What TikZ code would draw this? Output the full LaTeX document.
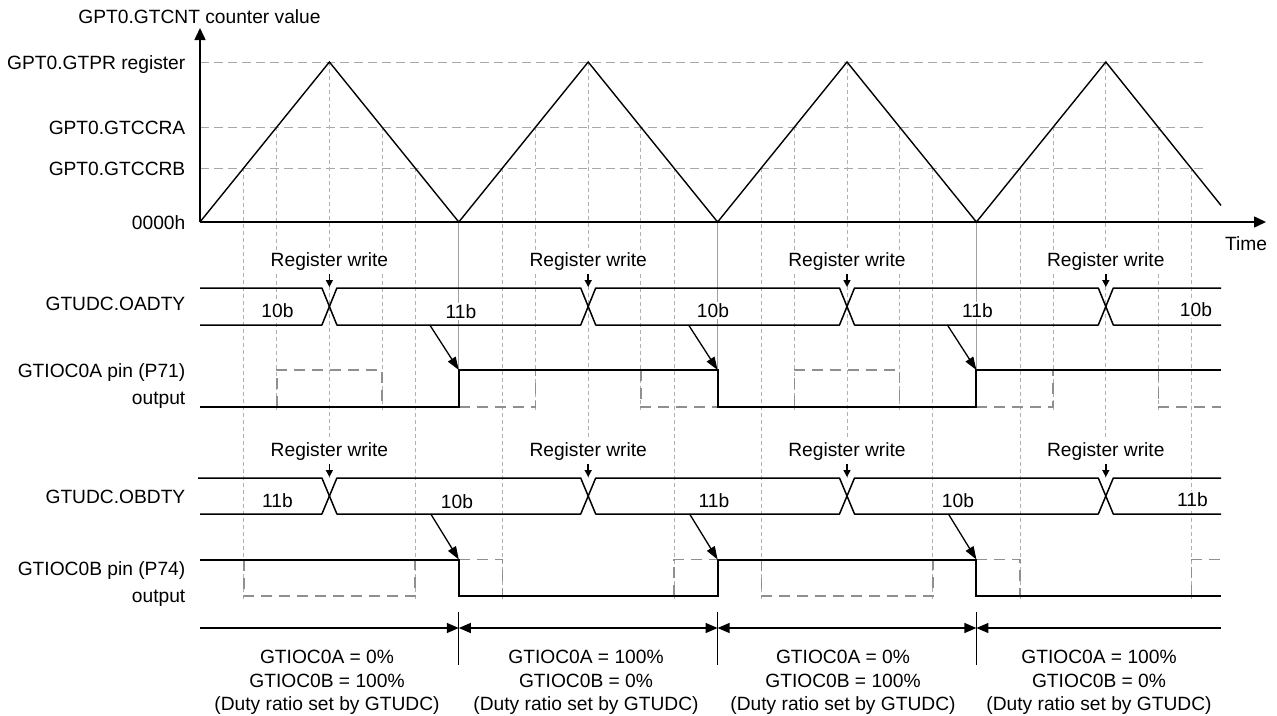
\documentclass[tikz,border=0pt]{standalone}
\usepackage{fontspec}
\setmainfont{Liberation Sans}
\usetikzlibrary{arrows.meta}
\definecolor{gridc}{HTML}{A8A8A8}
\definecolor{guidec}{HTML}{B0B0B0}
\definecolor{ghostc}{HTML}{8F8F8F}
\definecolor{vlinec}{HTML}{A0A0A0}
\begin{document}
\begin{tikzpicture}[x=1pt,y=-1pt,
  lbl/.style={font=\fontsize{19.2}{24}\selectfont, inner sep=0pt},
  val/.style={lbl, fill=white, inner sep=1.5pt},
  rw/.style={lbl, fill=white, inner sep=3pt},
  hgrid/.style={draw=gridc, line width=1pt, dash pattern=on 9pt off 5pt},
  guide/.style={draw=guidec, line width=0.8pt, dash pattern=on 4pt off 3pt},
  vline/.style={draw=vlinec, line width=1pt},
  tri/.style={line width=1.4pt, line join=miter},
  axis/.style={line width=1.5pt, -{Triangle[length=12pt,width=11pt]}},
  bus/.style={line width=1.5pt, line join=round},
  wave/.style={line width=2pt},
  ghost/.style={draw=ghostc, line width=1.6pt, dash pattern=on 11pt off 7pt},
  rwarrow/.style={line width=1.5pt, -{Triangle[length=7pt,width=7pt]}},
  cause/.style={line width=1.3pt, -{Triangle[length=13pt,width=9pt]}},
  spanline/.style={line width=1.3pt},
]
\useasboundingbox (0,0) rectangle (1277,715);

% horizontal grid lines
\foreach \yy in {62,127,168} \draw[hgrid] (200,\yy) -- (1206,\yy);

% vertical guide lines
\foreach \k in {0,...,3} {
  \pgfmathsetmacro{\V}{200+258.8*\k}
  \pgfmathsetmacro{\P}{\V+129.4}
  \draw[guide] (\V+43.7,168) -- (\V+43.7,600);
  \draw[guide] (\P+85.7,168) -- (\P+85.7,600);
  \draw[guide] (\V+76.8,127) -- (\V+76.8,410);
  \draw[guide] (\P+52.6,127) -- (\P+52.6,410);
  \draw[guide] (\P,62) -- (\P,478);
}
\foreach \V in {458.8,717.6,976.4} \draw[vline] (\V,222) -- (\V,370);

% counter triangle
\draw[tri] (200,222) -- (329.4,62) -- (458.8,222) -- (588.2,62) -- (717.6,222)
  -- (847,62) -- (976.4,222) -- (1105.8,62) -- (1221,205.4);

% axes
\coordinate (O) at (200,222);
\coordinate (ytop) at (200,28);
\coordinate (xend) at (1266,222);
\draw[axis] (O) -- (ytop);
\draw[axis] (O) -- (xend);

% axis labels
\node[lbl, anchor=base] (ltitle) at (199.5,23.6) {GPT0.GTCNT counter value};
\node[lbl, anchor=base east] (lpr) at (185.5,69) {GPT0.GTPR register};
\node[lbl, anchor=base east] (lca) at (185.5,134) {GPT0.GTCCRA};
\node[lbl, anchor=base east] (lcb) at (185.5,175) {GPT0.GTCCRB};
\node[lbl, anchor=base east] (lz) at (185.5,229) {0000h};
\node[lbl, anchor=base] (ltime) at (1246,250) {Time};

% signal names
\node[lbl, anchor=base east] (loa) at (185.5,310) {GTUDC.OADTY};
\node[lbl, anchor=base east] (lpa1) at (185.5,377) {GTIOC0A pin (P71)};
\node[lbl, anchor=base east] (lpa2) at (185.5,404) {output};
\node[lbl, anchor=base east] (lob) at (185.5,503.5) {GTUDC.OBDTY};
\node[lbl, anchor=base east] (lpb1) at (185.5,575) {GTIOC0B pin (P74)};
\node[lbl, anchor=base east] (lpb2) at (185.5,602) {output};

% GTUDC.OADTY bus
\draw[bus] (200,288) -- (321.9,288) -- (336.9,325) -- (580.7,325) -- (595.7,288)
  -- (839.5,288) -- (854.5,325) -- (1098.3,325) -- (1113.3,288) -- (1221,288);
\draw[bus] (200,325) -- (321.9,325) -- (336.9,288) -- (580.7,288) -- (595.7,325)
  -- (839.5,325) -- (854.5,288) -- (1098.3,288) -- (1113.3,325) -- (1221,325);
\node[val, anchor=base] (oa1) at (277.5,317) {10b};
\node[val, anchor=base] (oa2) at (461,318) {11b};
\node[val, anchor=base] (oa3) at (713,317) {10b};
\node[val, anchor=base] (oa4) at (977.5,317) {11b};
\node[val, anchor=base] (oa5) at (1196,316) {10b};

% GTUDC.OBDTY bus
\draw[bus] (198,478) -- (321.9,478) -- (336.9,514) -- (580.7,514) -- (595.7,478)
  -- (839.5,478) -- (854.5,514) -- (1098.3,514) -- (1113.3,478) -- (1221,478);
\draw[bus] (200,514) -- (321.9,514) -- (336.9,478) -- (580.7,478) -- (595.7,514)
  -- (839.5,514) -- (854.5,478) -- (1098.3,478) -- (1113.3,514) -- (1221,514);
\node[val, anchor=base] (ob1) at (277.5,507) {11b};
\node[val, anchor=base] (ob2) at (457,508) {10b};
\node[val, anchor=base] (ob3) at (714,507) {11b};
\node[val, anchor=base] (ob4) at (958,507) {10b};
\node[val, anchor=base] (ob5) at (1192.5,506) {11b};

% register write labels and arrows
\foreach \P [count=\i] in {329.4,588.2,847,1105.8} {
  \node[rw, anchor=base] (rwa\i) at (\P,266.7) {Register write};
  \coordinate (rwat\i) at (\P,287);
  \draw[rwarrow] (rwa\i.south) -- (rwat\i);
  \node[rw, anchor=base] (rwb\i) at (\P,456.7) {Register write};
  \coordinate (rwbt\i) at (\P,477);
  \draw[rwarrow] (rwb\i.south) -- (rwbt\i);
}

% GTIOC0A output
\draw[ghost] (276.8,406.7) -- (276.8,370) -- (382,370) -- (382,406.7);
\draw[ghost] (458.8,406.7) -- (535.6,406.7) -- (535.6,370);
\draw[ghost] (640.8,370) -- (640.8,406.7) -- (717.6,406.7);
\draw[ghost] (794.4,406.7) -- (794.4,370) -- (899.6,370) -- (899.6,406.7);
\draw[ghost] (976.4,406.7) -- (1053.2,406.7) -- (1053.2,370);
\draw[ghost] (1158.4,370) -- (1158.4,406.7) -- (1221,406.7);
\draw[wave] (200,406.7) -- (458.8,406.7) -- (458.8,370) -- (717.6,370) -- (717.6,406.7)
  -- (976.4,406.7) -- (976.4,370) -- (1221,370);

% GTIOC0B output
\draw[ghost] (243.7,559.5) -- (243.7,596) -- (415.1,596) -- (415.1,559.5);
\draw[ghost] (458.8,559.5) -- (502.5,559.5) -- (502.5,596);
\draw[ghost] (673.9,596) -- (673.9,559.5) -- (717.6,559.5);
\draw[ghost] (761.3,559.5) -- (761.3,596) -- (932.7,596) -- (932.7,559.5);
\draw[ghost] (976.4,559.5) -- (1020.1,559.5) -- (1020.1,596);
\draw[ghost] (1191.5,596) -- (1191.5,559.5) -- (1221,559.5);
\draw[wave] (200,559.5) -- (458.8,559.5) -- (458.8,596) -- (717.6,596) -- (717.6,559.5)
  -- (976.4,559.5) -- (976.4,596) -- (1221,596);

% cause arrows
\foreach \V [count=\i] in {458.8,717.6,976.4} {
  \coordinate (ca\i) at (\V-29,325);
  \coordinate (cat\i) at (\V,370);
  \draw[cause] (ca\i) -- (cat\i);
  \coordinate (cb\i) at (\V-28,514);
  \coordinate (cbt\i) at (\V,559.5);
  \draw[cause] (cb\i) -- (cbt\i);
}

% bottom spans
\coordinate (s0) at (200,628);
\coordinate (s1) at (458.8,628);
\coordinate (s2) at (717.6,628);
\coordinate (s3) at (976.4,628);
\coordinate (s4) at (1221,628);
\foreach \V in {458.8,717.6,976.4} \draw[line width=1pt] (\V,612) -- (\V,665);
\draw[spanline, -{Triangle[length=12pt,width=10pt]}] (s0) -- (s1);
\draw[spanline, {Triangle[length=12pt,width=10pt]}-{Triangle[length=12pt,width=10pt]}] (s1) -- (s2);
\draw[spanline, {Triangle[length=12pt,width=10pt]}-{Triangle[length=12pt,width=10pt]}] (s2) -- (s3);
\draw[spanline, {Triangle[length=12pt,width=10pt]}-] (s3) -- (s4);

\foreach \x/\a/\b [count=\i] in {327/0/100, 586/100/0, 843/0/100, 1099/100/0} {
  \node[lbl, anchor=base] (da\i) at (\x,663) {GTIOC0A = \a\%};
  \node[lbl, anchor=base] (db\i) at (\x,687) {GTIOC0B = \b\%};
  \node[lbl, anchor=base] (dc\i) at (\x,710) {(Duty ratio set by GTUDC)};
}
\end{tikzpicture}
\end{document}
